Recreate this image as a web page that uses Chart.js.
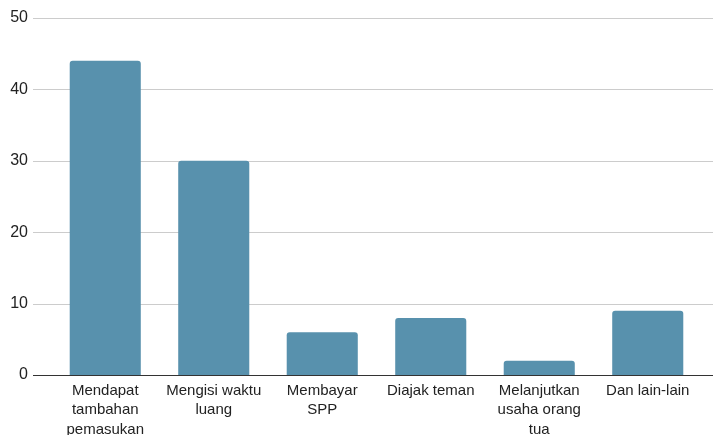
<!DOCTYPE html>
<html>
<head>
<meta charset="utf-8">
<script src="https://cdn.jsdelivr.net/npm/chart.js@4/dist/chart.umd.min.js"></script>
<style>
  html, body { margin: 0; padding: 0; background: #fff; }
  #wrap { width: 713px; height: 435px; }
</style>
</head>
<body>
<div id="wrap"><canvas id="c" width="713" height="435"></canvas></div>
<script>
const categories = [
  ["Mendapat", "tambahan", "pemasukan"],
  ["Mengisi waktu", "luang"],
  ["Membayar", "SPP"],
  ["Diajak teman"],
  ["Melanjutkan", "usaha orang", "tua"],
  ["Dan lain-lain"]
];
const values = [44, 30, 6, 8, 2, 9];
const yTicks = [0, 10, 20, 30, 40, 50];

const gridPlugin = {
  id: 'fullGrid',
  beforeDatasetsDraw(chart) {
    const ctx = chart.ctx, y = chart.scales.y, area = chart.chartArea;
    ctx.save();
    ctx.lineWidth = 1;
    yTicks.forEach(v => {
      if (v === 0) return;
      const py = Math.round(y.getPixelForValue(v)) + 0.5;
      ctx.strokeStyle = '#cccccc';
      ctx.beginPath();
      ctx.moveTo(area.left - 18, py);
      ctx.lineTo(chart.width, py);
      ctx.stroke();
    });
    ctx.restore();
  },
  afterDatasetsDraw(chart) {
    const ctx = chart.ctx, y = chart.scales.y, area = chart.chartArea;
    ctx.save();
    const py = Math.round(y.getPixelForValue(0)) + 0.5;
    ctx.strokeStyle = '#333333';
    ctx.lineWidth = 1;
    ctx.beginPath();
    ctx.moveTo(area.left - 18, py);
    ctx.lineTo(chart.width, py);
    ctx.stroke();
    ctx.restore();
  }
};

new Chart(document.getElementById('c'), {
  type: 'bar',
  data: {
    labels: categories,
    datasets: [{
      data: values,
      backgroundColor: '#5891ad',
      borderRadius: { topLeft: 3, topRight: 3 },
      borderSkipped: 'bottom',
      categoryPercentage: 1.0,
      barPercentage: 0.655
    }]
  },
  options: {
    responsive: false,
    animation: false,
    devicePixelRatio: 1,
    layout: { padding: { top: 18, right: 11, left: 0, bottom: 0 } },
    plugins: { legend: { display: false }, tooltip: { enabled: false } },
    scales: {
      x: {
        grid: { display: false, drawTicks: false },
        border: { display: false },
        ticks: {
          color: '#222222',
          font: { family: "'Liberation Sans', Arial, sans-serif", size: 15, lineHeight: 1.3 },
          padding: 6,
          maxRotation: 0,
          autoSkip: false
        },
        afterFit(scale) { scale.height = 60; scale.paddingLeft = 0; scale.paddingRight = 0; }
      },
      y: {
        min: 0, max: 50,
        afterBuildTicks(scale) { scale.ticks = yTicks.map(v => ({ value: v })); },
        grid: { display: false, drawTicks: false },
        border: { display: false },
        ticks: {
          color: '#222222',
          font: { family: "'Liberation Sans', Arial, sans-serif", size: 16 },
          padding: 23
        },
        afterFit(scale) { scale.width = 51; scale.paddingTop = 0; scale.paddingBottom = 0; }
      }
    }
  },
  plugins: [gridPlugin]
});
</script>
</body>
</html>
